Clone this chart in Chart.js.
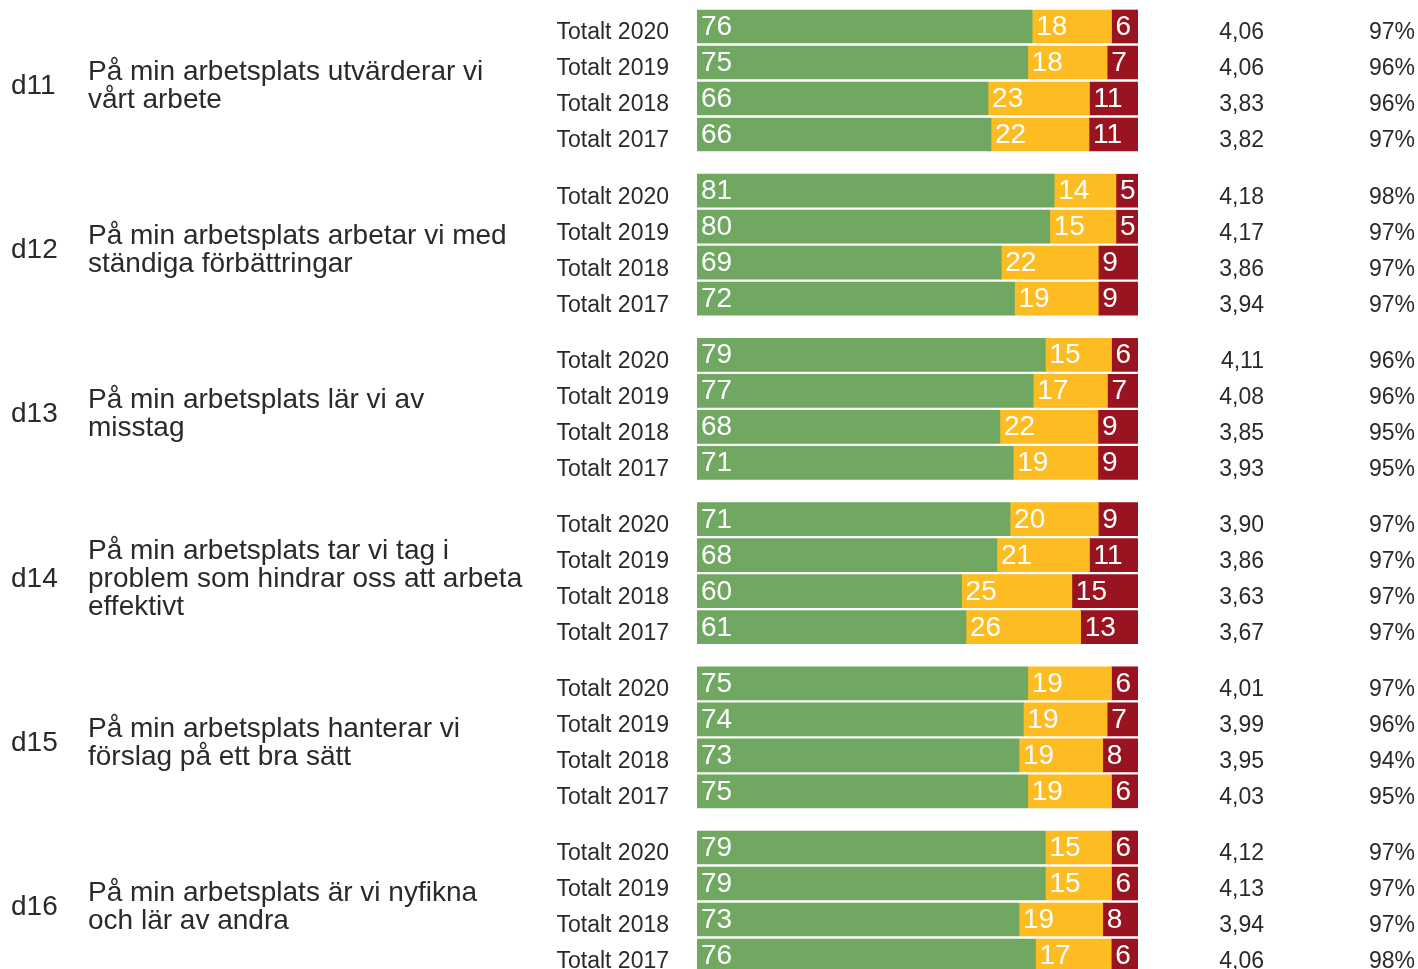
<!DOCTYPE html>
<html>
<head>
<meta charset="utf-8">
<script src="https://cdn.jsdelivr.net/npm/chart.js@4.4.1/dist/chart.umd.min.js"></script>
<style>
  html, body { margin: 0; padding: 0; background: #ffffff; }
  #wrap { width: 1418px; height: 969px; position: relative; }
</style>
</head>
<body>
<div id="wrap"><canvas id="c" width="1418" height="969"></canvas></div>
<script>
// ---- data ----
const codes = ['d11', 'd12', 'd13', 'd14', 'd15', 'd16'];
const questions = [
  ['På min arbetsplats utvärderar vi', 'vårt arbete'],
  ['På min arbetsplats arbetar vi med', 'ständiga förbättringar'],
  ['På min arbetsplats lär vi av', 'misstag'],
  ['På min arbetsplats tar vi tag i', 'problem som hindrar oss att arbeta', 'effektivt'],
  ['På min arbetsplats hanterar vi', 'förslag på ett bra sätt'],
  ['På min arbetsplats är vi nyfikna', 'och lär av andra']
];
const years = ['Totalt 2020', 'Totalt 2019', 'Totalt 2018', 'Totalt 2017'];
const positive = [76, 75, 66, 66,  81, 80, 69, 72,  79, 77, 68, 71,  71, 68, 60, 61,  75, 74, 73, 75,  79, 79, 73, 76];
const neutral  = [18, 18, 23, 22,  14, 15, 22, 19,  15, 17, 22, 19,  20, 21, 25, 26,  19, 19, 19, 19,  15, 15, 19, 17];
const negative = [ 6,  7, 11, 11,   5,  5,  9,  9,   6,  7,  9,  9,   9, 11, 15, 13,   6,  7,  8,  6,   6,  6,  8,  6];
const means    = [4.06, 4.06, 3.83, 3.82,  4.18, 4.17, 3.86, 3.94,  4.11, 4.08, 3.85, 3.93,  3.90, 3.86, 3.63, 3.67,  4.01, 3.99, 3.95, 4.03,  4.12, 4.13, 3.94, 4.06];
const answered = [97, 96, 96, 97,  98, 97, 97, 97,  96, 96, 95, 95,  97, 97, 97, 97,  97, 96, 94, 95,  97, 97, 97, 98];

// ---- layout helpers ----
const ROW_PX = 36;
const GROUP_GAP = 20.2 / ROW_PX;           // gap between question groups, in row units
const PER_GROUP = years.length;
function rowPos(i) {
  return Math.floor(i / PER_GROUP) * (PER_GROUP + GROUP_GAP) + (i % PER_GROUP);
}
const rowLabels = positive.map((_, i) => years[i % PER_GROUP]);
const positions = positive.map((_, i) => rowPos(i));
const Y_MIN = -26.5 / ROW_PX;
const Y_MAX = Y_MIN + 969 / ROW_PX;

// normalise each row so the stacked bar spans the full 100 %
const totals = positive.map((p, i) => p + neutral[i] + negative[i]);
function toPoints(arr) {
  return arr.map((v, i) => ({ x: v / totals[i] * 100, y: positions[i] }));
}
const rawSeries = [positive, neutral, negative];

const FONT = "'Liberation Sans', Arial, sans-serif";
const TEXT = '#2a2a2a';

const textPlugin = {
  id: 'textPlugin',
  afterDatasetsDraw(chart) {
    const ctx = chart.ctx;
    const yScale = chart.scales.y;
    const area = chart.chartArea;
    ctx.save();
    ctx.textBaseline = 'alphabetic';
    // values inside bars
    ctx.font = '28px ' + FONT;
    ctx.fillStyle = '#ffffff';
    ctx.textAlign = 'left';
    chart.data.datasets.forEach((ds, di) => {
      const meta = chart.getDatasetMeta(di);
      meta.data.forEach((bar, i) => {
        const left = Math.min(bar.x, bar.base);
        ctx.fillText(String(rawSeries[di][i]), left + 4, bar.y + 8.5);
      });
    });
    // row labels (left of bars) and right columns: mean and answer rate
    ctx.font = '23px ' + FONT;
    ctx.fillStyle = TEXT;
    ctx.textAlign = 'right';
    positions.forEach((p, i) => {
      const y = yScale.getPixelForValue(p) + 12.8;
      ctx.fillText(rowLabels[i], area.left - 28, y);
      ctx.fillText(means[i].toFixed(2).replace('.', ','), area.right + 126, y);
      ctx.fillText(answered[i] + '%', area.right + 277, y);
    });
    // question codes and texts (block vertically centred on the group)
    ctx.textAlign = 'left';
    ctx.font = '28px ' + FONT;
    codes.forEach((code, g) => {
      const firstCenter = yScale.getPixelForValue(rowPos(g * PER_GROUP));
      const lines = questions[g];
      const lh = 28;
      const midBase = firstCenter + 67.5;
      lines.forEach((ln, k) => ctx.fillText(ln, 88, midBase + (k - (lines.length - 1) / 2) * lh));
      ctx.fillText(code, 11, midBase);
    });
    ctx.restore();
  }
};

new Chart(document.getElementById('c'), {
  type: 'bar',
  data: {
    datasets: [
      { label: 'Positiv', data: toPoints(positive), backgroundColor: '#70a862' },
      { label: 'Neutral', data: toPoints(neutral),  backgroundColor: '#fdbc22' },
      { label: 'Negativ', data: toPoints(negative), backgroundColor: '#9a1320' }
    ]
  },
  options: {
    indexAxis: 'y',
    responsive: false,
    animation: false,
    devicePixelRatio: 1,
    barThickness: 33,
    layout: { autoPadding: false, padding: { left: 697, right: 280, top: 0, bottom: 0 } },
    plugins: { legend: { display: false }, tooltip: { enabled: false }, title: { display: false } },
    scales: {
      x: { display: false, stacked: true, min: 0, max: 100 },
      y: {
        type: 'linear',
        display: false,
        reverse: true,
        stacked: true,
        offset: false,
        min: Y_MIN,
        max: Y_MAX
      }
    }
  },
  plugins: [textPlugin]
});
</script>
</body>
</html>
